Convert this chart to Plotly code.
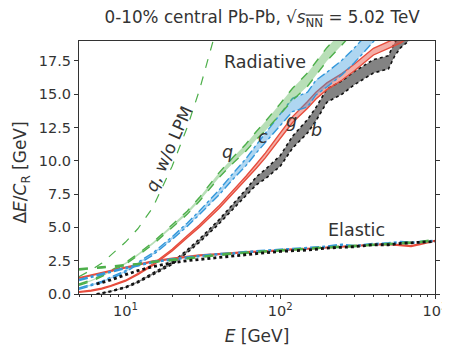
import math
import plotly.graph_objects as go

# ---------------- data ----------------
E_rad = [5, 6, 7, 8, 10, 12, 15, 20, 25, 30, 40, 50, 60, 70, 80, 100, 120, 150, 170, 200, 250, 300, 400, 500, 600, 800, 1000]

q_rad = [0.7, 1.0, 1.35, 1.7, 2.3, 2.95, 3.8, 5.1, 6.1, 7.1, 8.9, 10.1, 11.0, 11.9, 12.6, 13.9, 15.0, 16.1, 16.9, 18.0, 19.2, 20.2, 21.8, 23.0, 24.0, 25.5, 27.0]
q_hw = [0.05, 0.05, 0.05, 0.06, 0.06, 0.07, 0.08, 0.1, 0.12, 0.14, 0.18, 0.22, 0.26, 0.3, 0.35, 0.4, 0.45, 0.5, 0.5, 0.5, 0.5, 0.5, 0.5, 0.5, 0.5, 0.5, 0.5]

c_rad = [0.4, 0.65, 0.9, 1.2, 1.7, 2.3, 3.0, 4.2, 5.2, 6.1, 7.6, 8.9, 9.9, 10.9, 11.7, 13.1, 14.2, 14.6, 15.5, 16.1, 17.0, 17.9, 19.5, 21.0, 22.0, 23.5, 25.0]
c_hw = [0.05, 0.05, 0.05, 0.06, 0.06, 0.07, 0.08, 0.1, 0.12, 0.14, 0.18, 0.22, 0.26, 0.3, 0.35, 0.45, 0.5, 0.55, 0.55, 0.55, 0.55, 0.55, 0.55, 0.55, 0.55, 0.55, 0.55]

g_rad = [0.15, 0.25, 0.4, 0.6, 1.0, 1.5, 2.2, 3.3, 4.3, 5.1, 6.5, 7.7, 8.7, 9.6, 10.4, 11.9, 13.1, 14.2, 14.9, 15.6, 16.3, 17.0, 18.2, 18.7, 19.1, 20.2, 21.5]
g_hw = [0.03, 0.03, 0.03, 0.03, 0.03, 0.04, 0.05, 0.06, 0.07, 0.08, 0.1, 0.12, 0.14, 0.16, 0.18, 0.2, 0.22, 0.25, 0.25, 0.25, 0.25, 0.25, 0.25, 0.25, 0.25, 0.25, 0.25]

E_b = [6.5, 7, 8, 10, 12, 15, 20, 25, 30, 40, 50, 60, 70, 80, 100, 120, 150, 170, 200, 250, 300, 400, 500, 550, 600, 800, 1000]
b_rad = [0.0, 0.05, 0.2, 0.5, 0.9, 1.5, 2.3, 3.2, 4.0, 5.4, 6.6, 7.6, 8.5, 9.0, 10.0, 11.4, 12.6, 13.5, 14.9, 15.5, 16.2, 17.1, 17.4, 18.4, 19.0, 20.2, 21.5]
b_hw = [0.02, 0.02, 0.03, 0.04, 0.05, 0.06, 0.08, 0.1, 0.12, 0.15, 0.2, 0.25, 0.3, 0.35, 0.4, 0.45, 0.5, 0.5, 0.5, 0.5, 0.5, 0.5, 0.5, 0.5, 0.5, 0.5, 0.5]

E_nolpm = [5, 6, 7, 8, 10, 12, 15, 20, 25, 30, 35, 38]
q_nolpm = [1.3, 1.8, 2.3, 2.9, 3.9, 4.9, 6.5, 9.6, 12.5, 15.3, 18.0, 19.6]

E_el = [5, 6, 7, 8, 10, 12, 15, 20, 25, 30, 40, 50, 60, 80, 100, 120, 150, 200, 250, 300, 400, 500, 600, 700, 800, 1000]
q_el = [1.85, 1.95, 2.0, 2.05, 2.15, 2.25, 2.4, 2.55, 2.7, 2.8, 2.95, 3.05, 3.1, 3.2, 3.3, 3.35, 3.4, 3.5, 3.55, 3.6, 3.7, 3.75, 3.8, 3.85, 3.9, 4.05]
g_el = [1.2, 1.4, 1.6, 1.75, 2.0, 2.2, 2.45, 2.65, 2.8, 2.9, 3.0, 3.1, 3.15, 3.2, 3.3, 3.35, 3.4, 3.5, 3.55, 3.6, 3.7, 3.75, 3.65, 3.6, 3.75, 4.0]
c_el = [1.05, 1.3, 1.5, 1.7, 1.95, 2.15, 2.4, 2.6, 2.75, 2.85, 3.0, 3.05, 3.15, 3.25, 3.3, 3.35, 3.45, 3.55, 3.7, 3.6, 3.75, 3.8, 3.9, 3.85, 3.9, 4.0]
E_b_el = [6.5, 7, 8, 10, 12, 15, 20, 25, 30, 40, 50, 60, 80, 100, 120, 150, 200, 250, 300, 400, 500, 600, 700, 800, 1000]
b_el = [0.75, 0.85, 1.05, 1.45, 1.75, 2.05, 2.35, 2.5, 2.6, 2.75, 2.85, 2.95, 3.1, 3.2, 3.25, 3.3, 3.45, 3.5, 3.55, 3.7, 3.7, 3.8, 3.85, 3.9, 3.95]

x_ticks = [10, 100, 1000]
x_ticktext = ["10<sup>1</sup>", "10<sup>2</sup>", "10<sup>3</sup>"]
y_ticks = [0, 2.5, 5, 7.5, 10, 12.5, 15, 17.5]

GREEN = "#4daf4a"
BLUE = "#3498db"
RED = "#e74c3c"
BLACK = "#111111"
TXT = "#333333"

def rgba(hexc, a):
    h = hexc.lstrip("#")
    r, g, b = int(h[0:2], 16), int(h[2:4], 16), int(h[4:6], 16)
    return f"rgba({r},{g},{b},{a})"

fig = go.Figure()

def band(E, c, hw, color, dash, width, fillcol):
    lo = [v - h for v, h in zip(c, hw)]
    hi = [v + h for v, h in zip(c, hw)]
    fig.add_trace(go.Scatter(x=E, y=lo, mode="lines", line=dict(color=color, dash=dash, width=width), showlegend=False))
    fig.add_trace(go.Scatter(x=E, y=hi, mode="lines", fill="tonexty", fillcolor=fillcol,
                             line=dict(color=color, dash=dash, width=width), showlegend=False))

# w/o LPM
fig.add_trace(go.Scatter(x=E_nolpm, y=q_nolpm, mode="lines", line=dict(color=GREEN, dash="dash", width=1.2), showlegend=False))

# radiative bands
band(E_b, b_rad, b_hw, BLACK, "dot", 1.6, "rgba(90,90,90,0.75)")
band(E_rad, g_rad, g_hw, RED, "solid", 1.4, rgba(RED, 0.45))
band(E_rad, c_rad, c_hw, BLUE, "dashdot", 1.4, rgba(BLUE, 0.4))
band(E_rad, q_rad, q_hw, GREEN, "dash", 1.4, rgba(GREEN, 0.4))

# elastic
fig.add_trace(go.Scatter(x=E_el, y=g_el, mode="lines", line=dict(color=RED, width=2.2), showlegend=False))
fig.add_trace(go.Scatter(x=E_el, y=c_el, mode="lines", line=dict(color=BLUE, dash="dashdot", width=2.6), showlegend=False))
fig.add_trace(go.Scatter(x=E_el, y=q_el, mode="lines", line=dict(color=GREEN, dash="dash", width=2.6), showlegend=False))
fig.add_trace(go.Scatter(x=E_b_el, y=b_el, mode="lines", line=dict(color=BLACK, dash="dot", width=2.8), showlegend=False))

def ann(text, E, y, size=17.5, angle=0):
    fig.add_annotation(x=math.log10(E), y=y, xref="x", yref="y", text=text, showarrow=False,
                       font=dict(family="DejaVu Sans", size=size, color=TXT), textangle=angle)

ann("Radiative", 80, 17.4)
ann("Elastic", 313, 4.8)
ann("<i>q</i>", 45.7, 10.7)
ann("<i>c</i>", 77, 11.8)
ann("<i>g</i>", 118.6, 13.0)
ann("<i>b</i>", 172, 12.3)
ann("<i>q</i>, w/o LPM", 19.0, 10.9, 17, -66)

# y-axis title as a rotated paper annotation for exact placement
fig.add_annotation(x=-0.16, y=0.48, xref="paper", yref="paper", xanchor="center", yanchor="middle",
                   text="Δ<i>E</i>/<i>C</i><sub>R</sub> [GeV]", showarrow=False, textangle=-90,
                   font=dict(family="DejaVu Sans", size=17, color=TXT))

# page body has an 8px margin: the figure is sized/offset so the plot area lands at x 79-435, y 41-294
fig.update_layout(
    width=442, height=338,
    margin=dict(l=71, r=15, t=33, b=52),
    paper_bgcolor="white", plot_bgcolor="white",
    font=dict(family="DejaVu Sans", color=TXT, size=14),
    title=dict(text="0-10% central Pb-Pb, √<span style='text-decoration:overline'><i>s</i><sub>NN</sub></span> = 5.02 TeV",
               x=0.575, xanchor="center", y=0.973, yanchor="middle", font=dict(size=16.8, color=TXT)),
)
fig.update_xaxes(type="log", range=[math.log10(5), 3], tickvals=x_ticks, ticktext=x_ticktext,
                 ticks="outside", ticklen=4, tickcolor=TXT, showline=True, linecolor=TXT, linewidth=1,
                 mirror=True, showgrid=False, zeroline=False, tickfont=dict(size=14.5), automargin=False,
                 minor=dict(ticks="outside", ticklen=2, tickcolor=TXT, dtick="D1", showgrid=False),
                 title=dict(text="<i>E</i> [GeV]", font=dict(size=17), standoff=13))
fig.update_yaxes(range=[0, 19], tickvals=y_ticks, tickformat=".1f",
                 ticks="outside", ticklen=4, tickcolor=TXT, showline=True, linecolor=TXT, linewidth=1,
                 mirror="ticks", showgrid=False, zeroline=False, tickfont=dict(size=14.5), automargin=False)

fig.write_html("out.html")
